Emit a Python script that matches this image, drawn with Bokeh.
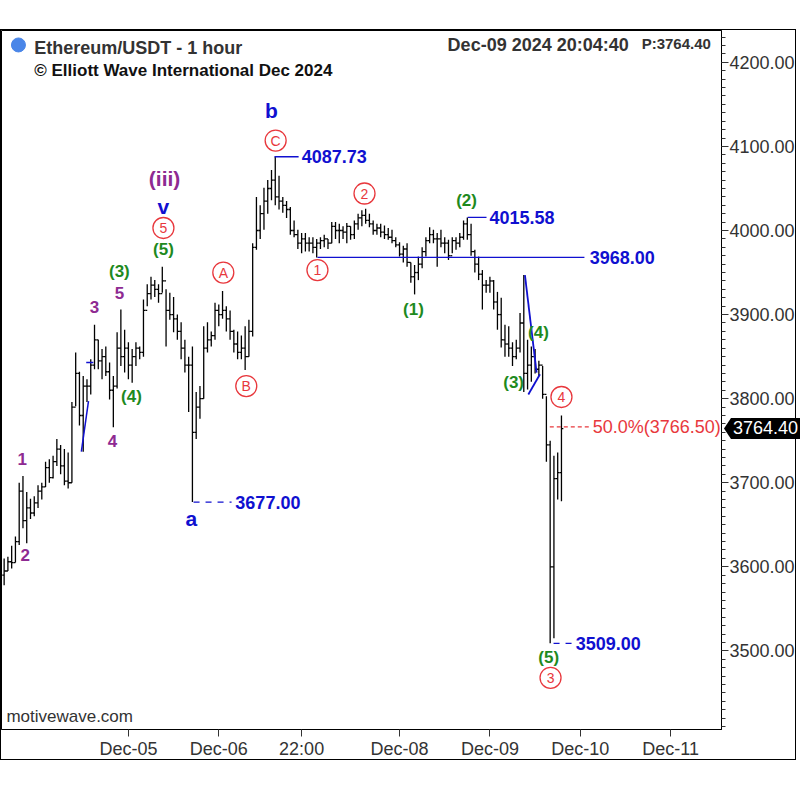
from bokeh.plotting import figure
from bokeh.models import (ColumnDataSource, FixedTicker, SingleIntervalTicker,
                          NumeralTickFormatter, Spacer, Range1d, Div)
from bokeh.layouts import column
from bokeh.core.properties import value
from bokeh.transform import dodge
from bokeh.embed import file_html
from bokeh.resources import INLINE

# ---------------- data ----------------
# hourly bars, hours relative to Dec-05 00:00 (Dec-03 15:00 .. Dec-09 20:00)
hours = list(range(-33, 116))
first_open = 3590
highs = [3610, 3612, 3625, 3636, 3700, 3708, 3689, 3681, 3684, 3697,
         3700, 3725, 3728, 3732, 3752, 3745, 3740, 3736, 3796, 3855,
         3832, 3827, 3823, 3847, 3888, 3870, 3859, 3862, 3843, 3827,
         3879, 3906, 3882, 3867, 3859, 3867, 3862, 3918, 3936, 3945,
         3941, 3936, 3957, 3930, 3926, 3921, 3900, 3891, 3870, 3850,
         3862, 3808, 3815, 3886, 3891, 3880, 3914, 3912, 3928, 3910,
         3905, 3882, 3880, 3875, 3886, 3894, 3985, 4040, 4030, 4051,
         4060, 4072, 4087.73, 4065, 4040, 4035, 4028, 4012, 4001, 3997,
         3997, 3992, 3992, 3990, 3992, 3995, 3990, 4010, 4010, 4008,
         4005, 4009, 4005, 4012, 4020, 4024, 4026, 4020, 4012, 4008,
         4008, 4006, 4003, 4001, 3992, 3986, 3982, 3985, 3962, 3959,
         3969, 3980, 3992, 4004, 4001, 3997, 4001, 3992, 3989, 3992,
         3992, 3997, 4012, 4015.58, 4008, 3977, 3969, 3953, 3941, 3945,
         3941, 3927, 3920, 3888, 3886, 3867, 3870, 3902, 3947, 3870,
         3862, 3859, 3845, 3839, 3803, 3750, 3732, 3736, 3780]
lows = [3578, 3595, 3598, 3605, 3626, 3646, 3628, 3657, 3660, 3670,
        3680, 3695, 3700, 3705, 3720, 3710, 3697, 3693, 3700, 3791,
        3768, 3737, 3796, 3805, 3835, 3835, 3823, 3827, 3799, 3766,
        3812, 3839, 3831, 3823, 3819, 3839, 3847, 3850, 3910, 3918,
        3921, 3914, 3926, 3862, 3894, 3879, 3870, 3847, 3831, 3784,
        3677, 3752, 3776, 3800, 3855, 3862, 3870, 3886, 3895, 3880,
        3870, 3855, 3847, 3847, 3834, 3850, 3874, 3977, 3990, 4001,
        4020, 4036, 4030, 4025, 4021, 4015, 3995, 3992, 3978, 3973,
        3975, 3975, 3973, 3968, 3978, 3980, 3978, 3985, 3990, 3985,
        3990, 3985, 3989, 3990, 4001, 4005, 4008, 4004, 3995, 3995,
        3992, 3990, 3989, 3985, 3980, 3969, 3962, 3957, 3938, 3924,
        3941, 3955, 3969, 3985, 3985, 3957, 3980, 3973, 3965, 3973,
        3977, 3980, 3989, 3989, 3970, 3950, 3941, 3906, 3926, 3926,
        3906, 3882, 3861, 3850, 3850, 3839, 3847, 3855, 3808, 3811,
        3820, 3830, 3827, 3800, 3725, 3509, 3515, 3680, 3678]
closes = [3595, 3606, 3605, 3630, 3690, 3655, 3670, 3664, 3676, 3690,
          3695, 3718, 3706, 3725, 3740, 3720, 3702, 3700, 3790, 3830,
          3780, 3815, 3815, 3840, 3870, 3845, 3850, 3832, 3810, 3815,
          3860, 3850, 3860, 3840, 3850, 3860, 3855, 3905, 3925, 3935,
          3930, 3925, 3940, 3905, 3900, 3895, 3880, 3860, 3840, 3840,
          3760, 3790, 3800, 3860, 3870, 3875, 3905, 3900, 3905, 3895,
          3880, 3865, 3855, 3860, 3850, 3880, 3980, 4000, 4020, 4035,
          4050, 4060, 4040, 4035, 4030, 4025, 4000, 3995, 3985, 3990,
          3985, 3985, 3980, 3985, 3988, 3990, 3985, 4005, 4000, 4000,
          3998, 4005, 3995, 4008, 4015, 4018, 4012, 4008, 4000, 4003,
          3998, 3995, 3992, 3988, 3983, 3972, 3978, 3962, 3945, 3950,
          3960, 3975, 3988, 3995, 3990, 3990, 3985, 3985, 3970, 3988,
          3985, 3992, 4008, 3995, 3975, 3960, 3948, 3935, 3935, 3940,
          3915, 3900, 3870, 3865, 3860, 3850, 3860, 3890, 3830, 3840,
          3850, 3835, 3840, 3805, 3745, 3600, 3705, 3712, 3764.40]

tick_hours = [0, 24, 46, 72, 96, 120, 144]
tick_labels = ["Dec-05", "Dec-06", "22:00", "Dec-08", "Dec-09", "Dec-10", "Dec-11"]

level_values = [4087.73, 4015.58, 3968.00, 3677.00, 3509.00]
level_text = ["4087.73", "4015.58", "3968.00", "3677.00", "3509.00"]
fib_value = 3766.50
fib_text = "50.0%(3766.50)"
last_price = 3764.40

# ---------------- annotation layout ----------------
PURPLE = "#8e2a92"
GREEN = "#1e8a1e"
BLUE = "#1010d0"
RED = "#e8383d"
FONT = "Liberation Sans"

purple_lbl = dict(text=["1", "2", "3", "4", "5"],
                  x=[-28.2, -27.4, -9.0, -4.25, -2.4],
                  y=[3728, 3614, 3909, 3750, 3926])
green_lbl = dict(text=["(3)", "(4)", "(5)", "(1)", "(2)", "(3)", "(4)", "(5)"],
                 x=[-2.4, 0.8, 9.3, 75.7, 89.8, 102.3, 108.9, 111.6],
                 y=[3951, 3802, 3977, 3906, 4036, 3819, 3879, 3492])
blue_lbl = dict(text=["v", "b", "a"], x=[9.3, 38.0, 16.7], y=[4028, 4143, 3657])
ring_lbl = dict(text=["5", "A", "B", "C", "1", "2", "4", "3"],
                x=[9.3, 25.2, 31.3, 39.1, 50.2, 62.7, 115.0, 112.1],
                y=[4003, 3950, 3815, 4107, 3953, 4044, 3802, 3468])
level_x0 = [38.8, 90.1, 50.2, 17.3, 112.9]
level_x1 = [45.2, 95.1, 121.1, 27.4, 117.7]
level_tx = [46.0, 95.9, 122.5, 28.4, 118.8]
level_dash = ["solid", "solid", "solid", "dashed", "dashed"]

X0, X1 = -33.7, 157.5
Y0, Y1 = 3406.5, 4237.9

p = figure(width=796, height=731, x_range=Range1d(X0, X1), y_range=Range1d(Y0, Y1),
           output_backend="svg", toolbar_location=None, y_axis_location="right",
           min_border_left=0, min_border_top=0, min_border_right=76, min_border_bottom=29,
           background_fill_color="white", border_fill_color="white")
p.styles = {"border": "1px solid black"}
p.outline_line_color = "black"
p.outline_line_width = 1
p.xgrid.visible = False
p.ygrid.visible = False

# axes
ya = p.yaxis[0]
ya.ticker = SingleIntervalTicker(interval=100, num_minor_ticks=10)
ya.formatter = NumeralTickFormatter(format="0.00")
ya.major_label_text_font = FONT
ya.major_label_text_font_size = "18px"
ya.major_label_text_color = "#333333"
ya.major_tick_in = 0
ya.major_tick_out = 7
ya.minor_tick_in = 0
ya.minor_tick_out = 4
ya.major_label_standoff = 1
ya.axis_line_color = "black"
ya.major_tick_line_color = "#333333"
ya.minor_tick_line_color = "#333333"

xa = p.xaxis[0]
xa.ticker = FixedTicker(ticks=tick_hours)
xa.major_label_overrides = {t: s for t, s in zip(tick_hours, tick_labels)}
xa.major_label_text_font = FONT
xa.major_label_text_font_size = "18px"
xa.major_label_text_color = "#333333"
xa.major_tick_in = 0
xa.major_tick_out = 7
xa.minor_tick_line_color = None
xa.major_label_standoff = 2
xa.axis_line_color = "black"
xa.major_tick_line_color = "#333333"

# OHLC bars
opens = [first_open] + closes[:-1]
src = ColumnDataSource(dict(t=hours, o=opens, h=highs, l=lows, c=closes))
p.segment(x0="t", y0="l", x1="t", y1="h", source=src, line_color="black", line_width=1.3)
p.segment(x0=dodge("t", -0.5, range=p.x_range), y0="o", x1="t", y1="o", source=src,
          line_color="black", line_width=1.3)
p.segment(x0="t", y0="c", x1=dodge("t", 0.5, range=p.x_range), y1="c", source=src,
          line_color="black", line_width=1.3)

# price levels
for v, x0, x1, tx, d, s in zip(level_values, level_x0, level_x1, level_tx, level_dash, level_text):
    p.line([x0, x1], [v, v], line_color=BLUE, line_width=1.3, line_dash=d)
    p.text([tx], [v], text=[s], text_color=BLUE, text_font=value(FONT),
           text_font_style="bold", text_font_size="18px", text_align="left",
           text_baseline="middle")

# fib 50%
p.line([111.9, 123.0], [fib_value, fib_value], line_color=RED, line_width=1.2, line_dash="4 3")
p.text([123.3], [fib_value], text=[fib_text], text_color=RED, text_font=value(FONT),
       text_font_size="18px", text_align="left", text_baseline="middle")

# wave drawing lines
p.line([-12.5, -10.6], [3737, 3797], line_color=BLUE, line_width=1.5)
p.line([-11.2, -9.3], [3843, 3843], line_color=BLUE, line_width=1.5)
p.line([105.3, 108.4], [3947, 3831], line_color=BLUE, line_width=1.8)
p.line([106.2, 109.3], [3805, 3829], line_color=BLUE, line_width=1.8)

# wave labels
p.text(x="x", y="y", text="text", source=ColumnDataSource(purple_lbl), text_color=PURPLE,
       text_font=value(FONT), text_font_style="bold", text_font_size="17px",
       text_align="center", text_baseline="middle")
p.text([9.6], [4062], text=["(iii)"], text_color=PURPLE, text_font=value(FONT),
       text_font_style="bold", text_font_size="21px", text_align="center", text_baseline="middle")
p.text(x="x", y="y", text="text", source=ColumnDataSource(green_lbl), text_color=GREEN,
       text_font=value(FONT), text_font_style="bold", text_font_size="17px",
       text_align="center", text_baseline="middle")
p.text(x="x", y="y", text="text", source=ColumnDataSource(blue_lbl), text_color=BLUE,
       text_font=value(FONT), text_font_style="bold", text_font_size="21px",
       text_align="center", text_baseline="middle")
ring_src = ColumnDataSource(ring_lbl)
p.scatter(x="x", y="y", source=ring_src, marker="circle", size=21, fill_color="white",
          line_color=RED, line_width=1.3)
p.text(x="x", y="y", text="text", source=ring_src, text_color=RED, text_font=value(FONT),
       text_font_size="14px", text_align="center", text_baseline="middle")

# header texts
p.scatter([-29.2], [4220.7], marker="circle", size=14, fill_color="#4a86e8", line_color="#4a86e8")
p.text([-25.0], [4217.5], text=["Ethereum/USDT - 1 hour"], text_color="#333333",
       text_font=value(FONT), text_font_style="bold", text_font_size="18px",
       text_align="left", text_baseline="middle")
p.text([-25.0], [4190.0], text=["\u00a9 Elliott Wave International Dec 2024"], text_color="#111111",
       text_font=value(FONT), text_font_style="bold", text_font_size="17px",
       text_align="left", text_baseline="middle")
p.text([134.2], [4220.7], text=["Dec-09 2024  20:04:40"], text_color="#333333",
       text_font=value(FONT), text_font_style="bold", text_font_size="18px",
       text_align="right", text_baseline="middle")
p.text([136.3], [4222.5], text=["P:3764.40"], text_color="#333333",
       text_font=value(FONT), text_font_style="bold", text_font_size="15px",
       text_align="left", text_baseline="middle")
p.text([-32.4], [3422.0], text=["motivewave.com"], text_color="#333333",
       text_font=value(FONT), text_font_size="17px", text_align="left", text_baseline="middle")

# last price tag sitting on the price axis
tag = Div(text="%.2f" % last_price, width=78, height=21,
          styles={"position": "absolute", "left": "719px", "top": "413px",
                  "width": "78px", "height": "21px", "background-color": "black",
                  "color": "white", "font-family": "'Liberation Sans', Arial, sans-serif",
                  "font-size": "18px", "line-height": "21px", "text-align": "left",
                  "padding-left": "9px", "box-sizing": "border-box",
                  "clip-path": "polygon(7px 0, 100% 0, 100% 100%, 7px 100%, 0 50%)"})

layout = column(Spacer(height=29, width=796), p, tag)
open("out.html", "w").write(file_html(layout, INLINE))
